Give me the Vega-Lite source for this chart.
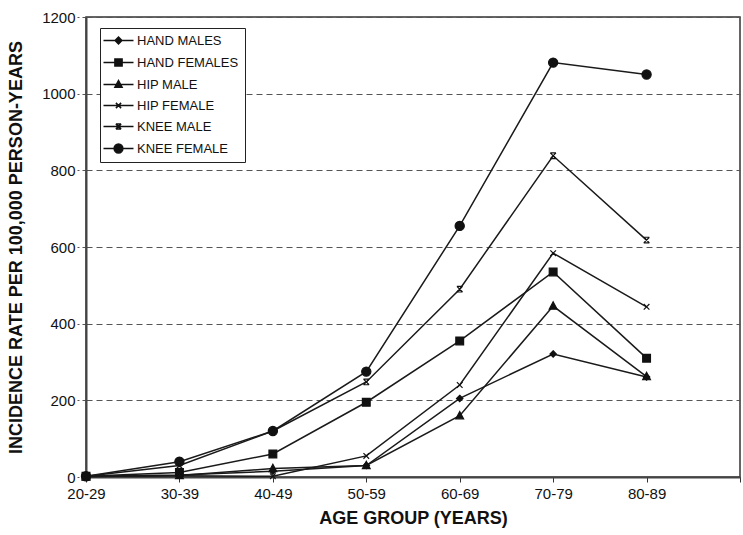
{
  "$schema": "https://vega.github.io/schema/vega-lite/v6.json",
  "width": 654,
  "height": 460,
  "autosize": {"type": "none"},
  "padding": {"left": 86, "top": 17, "right": 3, "bottom": 58},
  "background": "white",
  "config": {
    "font": "Liberation Sans",
    "view": {"stroke": "#333", "strokeWidth": 1.5}
  },
  "data": {
    "values": [
      {"series": "HAND MALES", "age": "20-29", "rate": 2},
      {"series": "HAND MALES", "age": "30-39", "rate": 5},
      {"series": "HAND MALES", "age": "40-49", "rate": 15},
      {"series": "HAND MALES", "age": "50-59", "rate": 30},
      {"series": "HAND MALES", "age": "60-69", "rate": 205},
      {"series": "HAND MALES", "age": "70-79", "rate": 321},
      {"series": "HAND MALES", "age": "80-89", "rate": 261},
      {"series": "HAND FEMALES", "age": "20-29", "rate": 2},
      {"series": "HAND FEMALES", "age": "30-39", "rate": 12},
      {"series": "HAND FEMALES", "age": "40-49", "rate": 60},
      {"series": "HAND FEMALES", "age": "50-59", "rate": 195},
      {"series": "HAND FEMALES", "age": "60-69", "rate": 355},
      {"series": "HAND FEMALES", "age": "70-79", "rate": 535},
      {"series": "HAND FEMALES", "age": "80-89", "rate": 310},
      {"series": "HIP  MALE", "age": "20-29", "rate": 1},
      {"series": "HIP  MALE", "age": "30-39", "rate": 4},
      {"series": "HIP  MALE", "age": "40-49", "rate": 22},
      {"series": "HIP  MALE", "age": "50-59", "rate": 30},
      {"series": "HIP  MALE", "age": "60-69", "rate": 160},
      {"series": "HIP  MALE", "age": "70-79", "rate": 446},
      {"series": "HIP  MALE", "age": "80-89", "rate": 262},
      {"series": "HIP  FEMALE", "age": "20-29", "rate": 1},
      {"series": "HIP  FEMALE", "age": "30-39", "rate": 3},
      {"series": "HIP  FEMALE", "age": "40-49", "rate": 2},
      {"series": "HIP  FEMALE", "age": "50-59", "rate": 55},
      {"series": "HIP  FEMALE", "age": "60-69", "rate": 240},
      {"series": "HIP  FEMALE", "age": "70-79", "rate": 584},
      {"series": "HIP  FEMALE", "age": "80-89", "rate": 444},
      {"series": "KNEE MALE", "age": "20-29", "rate": 2},
      {"series": "KNEE MALE", "age": "30-39", "rate": 30},
      {"series": "KNEE MALE", "age": "40-49", "rate": 120},
      {"series": "KNEE MALE", "age": "50-59", "rate": 248},
      {"series": "KNEE MALE", "age": "60-69", "rate": 490},
      {"series": "KNEE MALE", "age": "70-79", "rate": 838},
      {"series": "KNEE MALE", "age": "80-89", "rate": 618},
      {"series": "KNEE  FEMALE", "age": "20-29", "rate": 2},
      {"series": "KNEE  FEMALE", "age": "30-39", "rate": 40},
      {"series": "KNEE  FEMALE", "age": "40-49", "rate": 120},
      {"series": "KNEE  FEMALE", "age": "50-59", "rate": 275},
      {"series": "KNEE  FEMALE", "age": "60-69", "rate": 655},
      {"series": "KNEE  FEMALE", "age": "70-79", "rate": 1081},
      {"series": "KNEE  FEMALE", "age": "80-89", "rate": 1050}
    ]
  },
  "encoding": {
    "x": {
      "field": "age",
      "type": "ordinal",
      "scale": {"type": "point", "domain": ["20-29", "30-39", "40-49", "50-59", "60-69", "70-79", "80-89", ""], "padding": 0},
      "axis": {
        "title": "AGE GROUP (YEARS)",
        "titleFontSize": 18,
        "titleFontWeight": "bold",
        "titleColor": "#111",
        "titlePadding": 8,
        "labelAngle": 0,
        "labelFontSize": 15,
        "labelColor": "#111",
        "labelPadding": 4,
        "tickSize": 5,
        "tickColor": "#333",
        "domainColor": "#444",
        "domainWidth": 2,
        "grid": false
      }
    },
    "y": {
      "field": "rate",
      "type": "quantitative",
      "scale": {"domain": [0, 1200], "nice": false},
      "axis": {
        "title": "INCIDENCE RATE PER 100,000 PERSON-YEARS",
        "titleFontSize": 18,
        "titleFontWeight": "bold",
        "titleColor": "#111",
        "titlePadding": 16,
        "values": [0, 200, 400, 600, 800, 1000, 1200],
        "format": "d",
        "labelFontSize": 15,
        "labelColor": "#111",
        "labelPadding": 2,
        "tickSize": 9,
        "tickDash": [4, 3],
        "tickColor": "#555",
        "domainColor": "#444",
        "domainWidth": 2,
        "grid": true,
        "gridDash": [6, 4],
        "gridColor": "#555",
        "gridWidth": 1.2
      }
    }
  },
  "layer": [
    {
      "mark": {"type": "line", "color": "#1a1a1a", "strokeWidth": 1.5},
      "encoding": {"detail": {"field": "series"}}
    },
    {
      "mark": {"type": "point", "filled": true, "fill": "#111", "stroke": "#111", "strokeWidth": 1.2, "size": 50, "opacity": 1},
      "encoding": {
        "shape": {
          "field": "series",
          "scale": {
            "domain": ["HAND MALES", "HAND FEMALES", "HIP  MALE", "HIP  FEMALE", "KNEE MALE", "KNEE  FEMALE"],
            "range": [
              "M0,-0.9L0.9,0L0,0.9L-0.9,0Z",
              "M-1.1,-1.1H1.1V1.1H-1.1Z",
              "M0,-1.2L1.1,0.9H-1.1Z",
              "M-0.8,-0.8L0.8,0.8M-0.8,0.8L0.8,-0.8",
              "M-0.8,-0.8L0.8,0.8M-0.8,0.8L0.8,-0.8M-0.8,-0.8H0.8M-0.8,0.8H0.8",
              "M1.3,0A1.3,1.3 0 1,1 -1.3,0A1.3,1.3 0 1,1 1.3,0Z"
            ]
          },
          "legend": null
        }
      }
    },
    {
      "mark": {"type": "point", "filled": true, "fill": "#111", "stroke": "#111", "size": 16, "opacity": 0},
      "encoding": {
        "shape": {
          "field": "series",
          "scale": {
            "domain": ["HAND MALES", "HAND FEMALES", "HIP  MALE", "HIP  FEMALE", "KNEE MALE", "KNEE  FEMALE"],
            "range": [
              "M-7.5,0H7.5M0,-1.7L1.7,0L0,1.7L-1.7,0Z",
              "M-7.5,0H7.5M-1.8,-1.8H1.8V1.8H-1.8Z",
              "M-7.5,0H7.5M0,-2L1.8,1.4H-1.8Z",
              "M-7.5,0H7.5M-1.3,-1.3L1.3,1.3M-1.3,1.3L1.3,-1.3",
              "M-7.5,0H7.5M-1.3,-1.3L1.3,1.3M-1.3,1.3L1.3,-1.3M-1.3,-1.3H1.3M-1.3,1.3H1.3",
              "M-7.5,0H7.5M2.2,0A2.2,2.2 0 1,1 -2.2,0A2.2,2.2 0 1,1 2.2,0Z"
            ]
          },
          "legend": {
            "title": null,
            "orient": "none",
            "legendX": 14,
            "legendY": 11,
            "padding": 6,
            "symbolOffset": 6,
            "labelOffset": 12,
            "labelFontSize": 13,
            "labelColor": "#111",
            "rowPadding": 7,
            "strokeColor": "#222",
            "fillColor": "white",
            "symbolSize": 16,
            "encode": {
              "symbols": {"update": {"fill": {"value": "#111"}, "stroke": {"value": "#111"}, "strokeWidth": {"value": 1.5}, "opacity": {"value": 1}}},
              "legend": {"update": {"strokeWidth": {"value": 1.5}}}
            }
          }
        }
      }
    }
  ],
  "resolve": {"scale": {"shape": "independent"}}
}
